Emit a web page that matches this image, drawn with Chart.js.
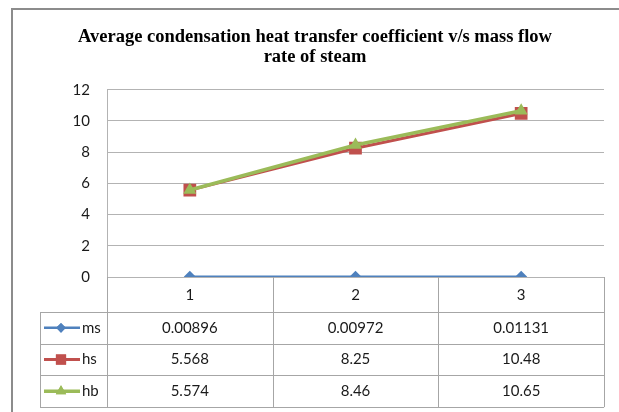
<!DOCTYPE html>
<html>
<head>
<meta charset="utf-8">
<script src="https://cdn.jsdelivr.net/npm/chart.js@4.4.0/dist/chart.umd.min.js"></script>
<style>
  html, body { margin: 0; padding: 0; background: #ffffff; }
  #wrap { width: 619px; height: 412px; position: relative; }
</style>
</head>
<body>
<div id="wrap"><canvas id="c" width="619" height="412"></canvas></div>
<script>
// ---- data ----
const categories = ['1', '2', '3'];
const seriesNames = ['ms', 'hs', 'hb'];
const ms = [0.00896, 0.00972, 0.01131];
const hs = [5.568, 8.25, 10.48];
const hb = [5.574, 8.46, 10.65];
const yMin = 0, yMax = 12, yStep = 2;
const titleLines = ['Average condensation heat transfer coefficient v/s mass flow', 'rate of steam'];

const bodyFont = 'Lato, "Open Sans", sans-serif';
const gridColor = '#b3b3b3';
const tableColor = '#a6a6a6';

const seriesStyles = [
  { color: '#4f81bd', pointStyle: 'rectRot', radius: 6, width: 2.5 },
  { color: '#c0504d', pointStyle: 'rect', radius: 9, width: 3 },
  { color: '#9bbb59', pointStyle: 'triangle', radius: 7.5, width: 3.5 }
];
const seriesData = [ms, hs, hb];

const datasets = seriesNames.map((name, i) => ({
  label: name,
  data: seriesData[i],
  borderColor: seriesStyles[i].color,
  backgroundColor: seriesStyles[i].color,
  borderWidth: seriesStyles[i].width,
  pointStyle: seriesStyles[i].pointStyle,
  pointRadius: seriesStyles[i].radius,
  pointBorderWidth: 0,
  pointBackgroundColor: seriesStyles[i].color,
  pointBorderColor: seriesStyles[i].color,
  tension: 0,
  order: seriesNames.length - 1 - i
}));

const frameAndTable = {
  id: 'frameAndTable',
  beforeDraw(chart) {
    const ctx = chart.ctx;
    ctx.save();
    ctx.fillStyle = '#ffffff';
    ctx.fillRect(0, 0, chart.width, chart.height);
    ctx.strokeStyle = '#8c8c8c';
    ctx.lineWidth = 2;
    ctx.strokeRect(12, 9, 800, 600);
    ctx.restore();
  },
  beforeDatasetsDraw(chart) {
    const ctx = chart.ctx;
    const xs = chart.scales.x;
    const ca = chart.chartArea;
    const colW = xs.getPixelForValue(1) - xs.getPixelForValue(0);
    const edges = categories.map((c, i) => xs.getPixelForValue(i) - colW / 2);
    edges.push(xs.getPixelForValue(categories.length - 1) + colW / 2);
    const top = ca.bottom;
    const catBottom = top + 35;
    const rowH = 31.7;
    const tableLeft = 40;
    const rowBottoms = seriesNames.map((n, i) => catBottom + rowH * (i + 1));
    const tableBottom = rowBottoms[rowBottoms.length - 1];
    const r = v => Math.round(v) + 0.5;

    ctx.save();
    ctx.strokeStyle = tableColor;
    ctx.lineWidth = 1;
    ctx.beginPath();
    [catBottom, ...rowBottoms].forEach(y => {
      ctx.moveTo(tableLeft, r(y));
      ctx.lineTo(edges[edges.length - 1], r(y));
    });
    ctx.moveTo(r(tableLeft), catBottom);
    ctx.lineTo(r(tableLeft), tableBottom);
    edges.forEach(x => {
      ctx.moveTo(r(x), top);
      ctx.lineTo(r(x), tableBottom);
    });
    ctx.stroke();

    ctx.fillStyle = '#1a1a1a';
    ctx.font = '15px ' + bodyFont;
    ctx.textAlign = 'center';
    ctx.textBaseline = 'middle';
    categories.forEach((c, i) => {
      ctx.fillText(c, xs.getPixelForValue(i), top + 18);
    });
    seriesNames.forEach((name, si) => {
      const yc = catBottom + rowH * si + rowH / 2;
      seriesData[si].forEach((v, i) => {
        ctx.textAlign = 'center';
        ctx.fillText(String(v), xs.getPixelForValue(i), yc);
      });
      const st = seriesStyles[si];
      ctx.strokeStyle = st.color;
      ctx.lineWidth = st.width;
      ctx.beginPath();
      ctx.moveTo(44, yc);
      ctx.lineTo(80, yc);
      ctx.stroke();
      ctx.fillStyle = st.color;
      Chart.helpers.drawPoint(ctx, {
        pointStyle: st.pointStyle,
        radius: st.radius * 0.8,
        rotation: 0,
        borderWidth: 0
      }, 61, yc);
      ctx.fill();
      ctx.fillStyle = '#1a1a1a';
      ctx.textAlign = 'left';
      ctx.fillText(name, 82, yc);
    });
    ctx.restore();
  }
};

new Chart(document.getElementById('c'), {
  type: 'line',
  data: { labels: categories, datasets },
  options: {
    responsive: false,
    animation: false,
    events: [],
    layout: { padding: { left: 26, right: 15, top: 0, bottom: 135 } },
    plugins: {
      legend: { display: false },
      tooltip: { enabled: false },
      title: {
        display: true,
        text: titleLines,
        color: '#000000',
        font: { family: '"Liberation Serif", serif', size: 18.5, weight: 'bold', lineHeight: 1.1 },
        padding: { top: 27, bottom: 22 }
      }
    },
    scales: {
      x: {
        type: 'category',
        display: false,
        offset: true
      },
      y: {
        min: yMin,
        max: yMax,
        afterFit(s) { s.width = 81; },
        ticks: {
          stepSize: yStep,
          color: '#1a1a1a',
          font: { family: bodyFont, size: 15 },
          padding: 17
        },
        grid: { color: gridColor, drawTicks: false, lineWidth: 1 },
        border: { display: true, color: gridColor, width: 1 }
      }
    }
  },
  plugins: [frameAndTable]
});
</script>
</body>
</html>
